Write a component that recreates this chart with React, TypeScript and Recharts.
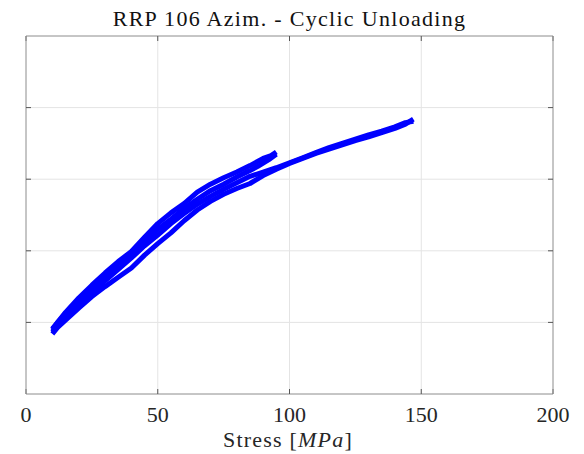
import { LineChart, Line, XAxis, YAxis, CartesianGrid } from "recharts";

// cycle 1: loading to ~95 MPa, then unloading
const load1X = [10, 12, 15, 20, 25, 30, 35, 40, 45, 50, 55, 60, 65, 70, 75, 80, 85, 90, 93, 95];
const load1Y = [0.9, 1.0, 1.14, 1.34, 1.52, 1.69, 1.85, 1.99, 2.19, 2.38, 2.53, 2.66, 2.82, 2.93, 3.02, 3.1, 3.19, 3.29, 3.33, 3.38];

const unload1X = [10, 12, 15, 20, 25, 30, 35, 40, 45, 50, 55, 60, 65, 70, 75, 80, 85, 88, 92, 95];
const unload1Y = [0.91, 1.0, 1.12, 1.31, 1.49, 1.65, 1.82, 1.96, 2.13, 2.3, 2.44, 2.59, 2.72, 2.84, 2.93, 3.03, 3.12, 3.18, 3.27, 3.35];

// cycle 2: loading to ~147 MPa, then unloading
const load2X = [10, 12, 15, 20, 25, 30, 35, 40, 45, 50, 55, 60, 65, 70, 75, 80, 85, 90, 95, 100, 105, 110, 115, 120, 125, 130, 135, 140, 144, 147];
const load2Y = [0.84, 0.93, 1.03, 1.2, 1.36, 1.5, 1.63, 1.76, 1.94, 2.1, 2.25, 2.42, 2.57, 2.69, 2.79, 2.87, 2.94, 3.05, 3.14, 3.22, 3.29, 3.36, 3.42, 3.48, 3.54, 3.59, 3.65, 3.71, 3.77, 3.84];

const unload2X = [10, 12, 15, 20, 25, 30, 35, 40, 45, 50, 55, 60, 65, 70, 75, 80, 85, 90, 95, 100, 105, 110, 115, 120, 125, 130, 135, 140, 144, 147];
const unload2Y = [0.87, 0.97, 1.08, 1.26, 1.42, 1.58, 1.74, 1.9, 2.07, 2.22, 2.38, 2.52, 2.65, 2.76, 2.86, 2.95, 3.04, 3.1, 3.16, 3.23, 3.3, 3.37, 3.44, 3.5, 3.56, 3.62, 3.67, 3.73, 3.79, 3.81];

const xTicks = [0, 50, 100, 150, 200];
const yTicks = [1, 2, 3, 4];

const toPoints = (xs: number[], ys: number[]) =>
  xs.map((x, i) => ({ stress: x, strain: ys[i] }));

const series = [
  toPoints(load1X, load1Y),
  toPoints(unload1X, unload1Y),
  toPoints(load2X, load2Y),
  toPoints(unload2X, unload2Y),
];

const font = "'Liberation Serif', 'DejaVu Serif', serif";
const axisGray = "#9a9a9a";
const tickColor = "#555";
const tickStyle = { fontSize: 22, fontFamily: font, fill: "#262626" };
const noLabel = () => <g />;

export default function App() {
  return (
    <div style={{ position: "absolute", left: 0, top: 0, width: 584, height: 454, background: "#fff" }}>
      <LineChart
        width={584}
        height={454}
        margin={{ top: 36, right: 31, bottom: 30, left: 26 }}
      >
        <CartesianGrid stroke="#e4e4e4" xAxisId="b" yAxisId="l" />

        {/* tick labels below the plot */}
        <XAxis
          xAxisId="b"
          dataKey="stress"
          type="number"
          domain={[0, 200]}
          ticks={xTicks}
          height={30}
          tickLine={false}
          tickMargin={6}
          tick={tickStyle}
          stroke={axisGray}
        />
        {/* inward ticks on all four sides */}
        <XAxis
          xAxisId="bt"
          dataKey="stress"
          type="number"
          domain={[0, 200]}
          ticks={xTicks}
          mirror
          tick={noLabel}
          axisLine={false}
          tickSize={5}
          tickLine={{ stroke: tickColor }}
        />
        <XAxis
          xAxisId="t"
          dataKey="stress"
          orientation="top"
          type="number"
          domain={[0, 200]}
          ticks={xTicks}
          mirror
          tick={noLabel}
          tickSize={5}
          stroke={axisGray}
          tickLine={{ stroke: tickColor }}
        />
        <YAxis
          yAxisId="l"
          type="number"
          domain={[0, 5]}
          ticks={yTicks}
          mirror
          tick={noLabel}
          tickSize={5}
          stroke={axisGray}
          tickLine={{ stroke: tickColor }}
        />
        <YAxis
          yAxisId="r"
          orientation="right"
          type="number"
          domain={[0, 5]}
          ticks={yTicks}
          mirror
          tick={noLabel}
          tickSize={5}
          stroke={axisGray}
          tickLine={{ stroke: tickColor }}
        />

        {/* invisible copies so the mirrored box axes get a scale */}
        <Line data={series[2]} xAxisId="t" yAxisId="r" dataKey="strain" stroke="none" dot={false} isAnimationActive={false} />
        <Line data={series[2]} xAxisId="bt" yAxisId="r" dataKey="strain" stroke="none" dot={false} isAnimationActive={false} />

        {series.map((d, i) => (
          <Line
            key={i}
            data={d}
            xAxisId="b"
            yAxisId="l"
            dataKey="strain"
            type="linear"
            stroke="#0000ff"
            strokeWidth={5}
            strokeLinejoin="round"
            dot={false}
            isAnimationActive={false}
          />
        ))}
      </LineChart>

      <svg
        width={584}
        height={454}
        style={{ position: "absolute", left: 0, top: 0, pointerEvents: "none" }}
      >
        <text x={289.5} y={26} textAnchor="middle" style={{ fontFamily: font, fontSize: 22, letterSpacing: 1.3 }} fill="#111">
          RRP 106 Azim. - Cyclic Unloading
        </text>
        <text x={288} y={447} textAnchor="middle" style={{ fontFamily: font, fontSize: 22, letterSpacing: 1.2 }} fill="#262626">
          Stress [<tspan fontStyle="italic">MPa</tspan>]
        </text>
      </svg>
    </div>
  );
}
